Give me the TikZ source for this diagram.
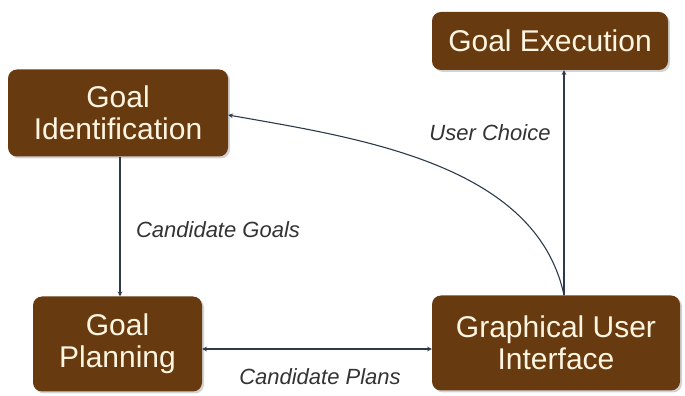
\documentclass[tikz,border=0pt]{standalone}
\usepackage{fontspec}
\setmainfont{Liberation Sans}
\usetikzlibrary{shadows}
\definecolor{boxbrown}{RGB}{104,58,16}
\definecolor{boxtext}{RGB}{255,246,226}
\definecolor{linkcol}{RGB}{44,58,74}
\tikzset{
  goalbox/.style={rounded corners=9pt, fill=boxbrown, text=boxtext, align=center,
    font=\fontsize{30}{32}\selectfont, inner sep=0pt,
    drop shadow={opacity=0.35, shadow xshift=2pt, shadow yshift=-2pt}},
  link/.style={draw=linkcol, line width=1.1pt},
  linklabel/.style={font=\fontsize{22}{24}\selectfont\itshape, text=black!80}
}
\begin{document}
\begin{tikzpicture}[x=1pt, y=1pt, >=stealth]
    \useasboundingbox (0,0) rectangle (685,396);
    \node[goalbox, minimum width=236pt, minimum height=58pt] (exec) at (550,355) {Goal Execution};
    \node[goalbox, minimum width=220pt, minimum height=87pt] (ident) at (118,283) {Goal\\Identification};
    \node[goalbox, minimum width=169pt, minimum height=95pt] (plan) at (117.5,52) {Goal\\Planning};
    \node[goalbox, minimum width=248pt, minimum height=95pt] (gui) at (556,53) {Graphical User\\Interface};
    \coordinate (guitop) at ([xshift=8pt]gui.north);
    \draw[link, ->] ([xshift=2pt]ident.south) -- ([xshift=2pt]ident.south |- plan.north);
    \draw[link, <->] ([yshift=-5pt]plan.east) -- ([yshift=-5pt]plan.east -| gui.west);
    \draw[link, ->] (guitop) -- (guitop |- exec.south);
    \draw[link, ->] (guitop) to[out=102, in=-10, looseness=0.9] ([yshift=-2pt]ident.east);
    \node[linklabel] (goalslbl) at (218,166) {Candidate Goals};
    \node[linklabel] (planslbl) at (320,19) {Candidate Plans};
    \node[linklabel] (choicelbl) at (490,263) {User Choice};
  \end{tikzpicture}
\end{document}
